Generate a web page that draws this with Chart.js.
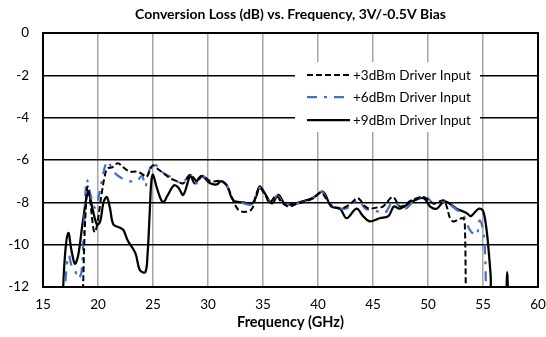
<!DOCTYPE html>
<html>
<head>
<meta charset="utf-8">
<script src="https://cdn.jsdelivr.net/npm/chart.js@4"></script>
<style>
html,body{margin:0;padding:0;background:#fff;}
#wrap{width:546px;height:337px;position:relative;}
</style>
</head>
<body>
<div id="wrap"><canvas id="c" width="546" height="337"></canvas></div>
<script>
const chartTitle = "Conversion Loss (dB) vs. Frequency, 3V/-0.5V Bias";
const xTitle = "Frequency (GHz)";
const seriesNames = ["+3dBm Driver Input", "+6dBm Driver Input", "+9dBm Driver Input"];

const freq3 = [18.6,18.75,18.9,19.05,19.3,19.6,19.75,20.0,20.3,20.6,20.85,21.3,21.8,22.3,22.9,23.5,24.0,24.4,24.7,25.0,25.5,25.9,26.5,27.2,27.75,28.4,29.0,29.5,30.2,31.1,31.7,32.2,32.75,33.4,34.0,34.4,34.7,35.2,35.6,36.2,36.7,37.3,38.2,39.0,39.6,40.3,41.1,42.0,42.9,43.6,44.3,44.7,45.3,45.9,46.8,47.5,48.5,49.6,50.5,51.4,51.7,52.0,52.3,52.8,53.2,53.35,53.45];
const loss3 = [-13,-10,-8.2,-7.25,-8.0,-9.3,-9.4,-8.8,-7.7,-6.8,-6.4,-6.35,-6.15,-6.35,-6.55,-6.55,-6.65,-6.8,-6.5,-6.25,-6.45,-6.6,-6.85,-7.0,-7.1,-6.7,-7.0,-6.75,-7.0,-7.0,-7.2,-7.8,-8.35,-8.45,-8.3,-7.6,-7.3,-7.65,-8.0,-7.7,-8.0,-8.2,-8.05,-7.95,-7.8,-7.55,-8.1,-8.3,-8.1,-7.8,-8.2,-8.3,-8.25,-8.2,-7.75,-8.2,-7.9,-7.75,-8.05,-7.9,-8.2,-8.75,-8.9,-8.8,-8.75,-9.1,-13];

const freq6 = [16.95,17.1,17.35,17.6,17.9,18.2,18.5,18.7,18.97,19.3,19.7,20.0,20.3,20.85,21.5,22.5,23.5,24.0,24.3,24.6,25.0,25.9,26.8,27.6,28.4,29.0,29.5,30.2,31.1,31.7,32.3,32.9,34.0,34.4,34.7,35.2,35.7,36.3,37.0,38.2,39.6,40.35,41.1,42.5,43.6,44.3,44.7,45.6,46.1,46.8,47.9,48.6,49.7,50.5,51.5,52.6,53.2,53.8,54.4,54.7,55.1,55.3];
const loss6 = [-13,-11.3,-10.5,-11.0,-11.2,-11.6,-11.3,-9.5,-6.95,-7.6,-8.25,-7.9,-7.1,-6.08,-6.6,-6.95,-7.0,-6.75,-7.25,-6.6,-6.15,-6.6,-6.85,-7.1,-6.7,-7.1,-6.75,-7.0,-7.0,-7.2,-7.9,-8.0,-8.1,-7.6,-7.3,-7.65,-8.0,-7.7,-8.1,-8.05,-7.8,-7.5,-8.1,-8.3,-7.9,-8.3,-8.35,-8.45,-8.5,-8.0,-8.3,-8.0,-7.7,-8.05,-7.97,-8.35,-8.6,-9.3,-9.55,-8.85,-9.6,-13];

const freq9 = [16.75,17.0,17.3,17.6,17.9,18.2,18.6,19.1,19.5,19.9,20.2,20.5,20.8,21.1,21.4,22.0,22.3,22.7,23.4,23.8,24.3,24.5,24.7,24.85,25.0,25.4,25.9,26.3,26.9,27.3,27.75,28.4,28.8,29.4,30.2,30.8,31.2,31.7,32.3,33.2,34.0,34.4,34.7,35.2,35.8,36.4,37.0,37.5,38.6,39.5,40.45,41.2,42.0,42.6,43.5,44.1,44.7,45.6,46.4,46.9,47.45,48.6,49.6,50.2,50.8,51.5,52.6,53.5,53.9,54.6,55.0,55.3,55.5,55.7,55.85,56.9,57.1,57.2,57.3,57.5];
const loss9 = [-13,-10.5,-9.45,-10.3,-10.9,-10.5,-9.0,-7.5,-8.3,-9.05,-8.9,-8.0,-7.75,-8.3,-9.05,-9.2,-9.3,-9.8,-10.4,-11.2,-11.3,-10.5,-8.5,-7.0,-6.7,-7.4,-8.0,-7.7,-7.2,-7.3,-7.65,-6.75,-7.1,-6.75,-7.1,-7.15,-7.0,-7.2,-7.9,-8.0,-8.05,-7.7,-7.25,-7.6,-8.05,-7.65,-8.1,-8.1,-7.95,-7.8,-7.5,-8.2,-8.3,-8.75,-8.3,-8.65,-8.9,-8.75,-8.65,-8.2,-8.3,-7.95,-7.8,-8.2,-8.3,-7.95,-8.3,-8.5,-8.65,-8.3,-8.4,-9.2,-10.2,-11.5,-13,-13,-12.4,-11.3,-12.4,-13];

const xTicks = [15,20,25,30,35,40,45,50,55,60];
const yTicks = [0,-2,-4,-6,-8,-10,-12];

const FONT = "Lato, 'Liberation Sans', sans-serif";

function pts(xs, ys){ return xs.map((x,i)=>({x:x, y:ys[i]})); }

const legendPlugin = {
  id: 'insideLegend',
  afterDatasetsDraw(chart){
    const ctx = chart.ctx;
    ctx.save();
    ctx.fillStyle = '#fff';
    ctx.fillRect(295, 62, 185, 70);
    const rows = [75, 97, 120];
    chart.data.datasets.forEach((ds, i) => {
      const y = rows[i];
      ctx.beginPath();
      ctx.strokeStyle = ds.borderColor;
      ctx.lineWidth = ds.borderWidth;
      ctx.setLineDash(ds.borderDash || []);
      ctx.moveTo(307, y);
      ctx.lineTo(350, y);
      ctx.stroke();
      ctx.setLineDash([]);
      ctx.fillStyle = '#000';
      ctx.font = "13.5px " + FONT;
      ctx.textBaseline = 'middle';
      ctx.textAlign = 'left';
      ctx.fillText(ds.label, 353, y + 0.5);
    });
    const a = chart.chartArea;
    ctx.strokeStyle = '#000';
    ctx.lineWidth = 2;
    ctx.strokeRect(a.left, a.top, a.right - a.left, a.bottom - a.top);
    ctx.restore();
  }
};

new Chart(document.getElementById('c'), {
  type: 'line',
  data: {
    datasets: [
      {label: seriesNames[0], data: pts(freq3, loss3), borderColor: '#000000', borderWidth: 2, borderDash: [6,3], pointRadius: 0, tension: 0.35, fill: false},
      {label: seriesNames[1], data: pts(freq6, loss6), borderColor: '#4472C4', borderWidth: 2.25, borderDash: [10,7,3,7], pointRadius: 0, tension: 0.35, fill: false},
      {label: seriesNames[2], data: pts(freq9, loss9), borderColor: '#000000', borderWidth: 2.25, pointRadius: 0, tension: 0.35, fill: false}
    ]
  },
  options: {
    responsive: false,
    animation: false,
    devicePixelRatio: 1,
    layout: {padding: {left: 0, right: 8, top: 0, bottom: 6}},
    plugins: {
      legend: {display: false},
      tooltip: {enabled: false},
      title: {display: true, fullSize: false, text: chartTitle, color: '#000', font: {family: FONT, size: 14, weight: 'bold'}, lineHeight: 1.2, padding: {top: 6, bottom: 10.2}}
    },
    scales: {
      x: {
        type: 'linear', min: 15, max: 60,
        afterBuildTicks: s => { s.ticks = xTicks.map(v => ({value: v})); },
        afterFit: s => { s.height = 44; s.paddingRight = 0; s.paddingLeft = 0; },
        ticks: {color: '#000', font: {family: FONT, size: 13.5}, padding: 10, maxRotation: 0},
        grid: {color: '#A6A6A6', lineWidth: 1.5, drawTicks: false},
        border: {display: false},
        title: {display: true, text: xTitle, color: '#000', font: {family: FONT, size: 14.5, weight: 'bold'}, padding: {top: 0, bottom: 0}}
      },
      y: {
        min: -12, max: 0,
        afterBuildTicks: s => { s.ticks = yTicks.map(v => ({value: v})); },
        afterFit: s => { s.width = 43; s.paddingTop = 0; s.paddingBottom = 0; },
        ticks: {color: '#000', font: {family: FONT, size: 13.5}, padding: 14},
        grid: {color: '#000', lineWidth: 1.5, drawTicks: false},
        border: {display: false}
      }
    }
  },
  plugins: [legendPlugin]
});
</script>
</body>
</html>
